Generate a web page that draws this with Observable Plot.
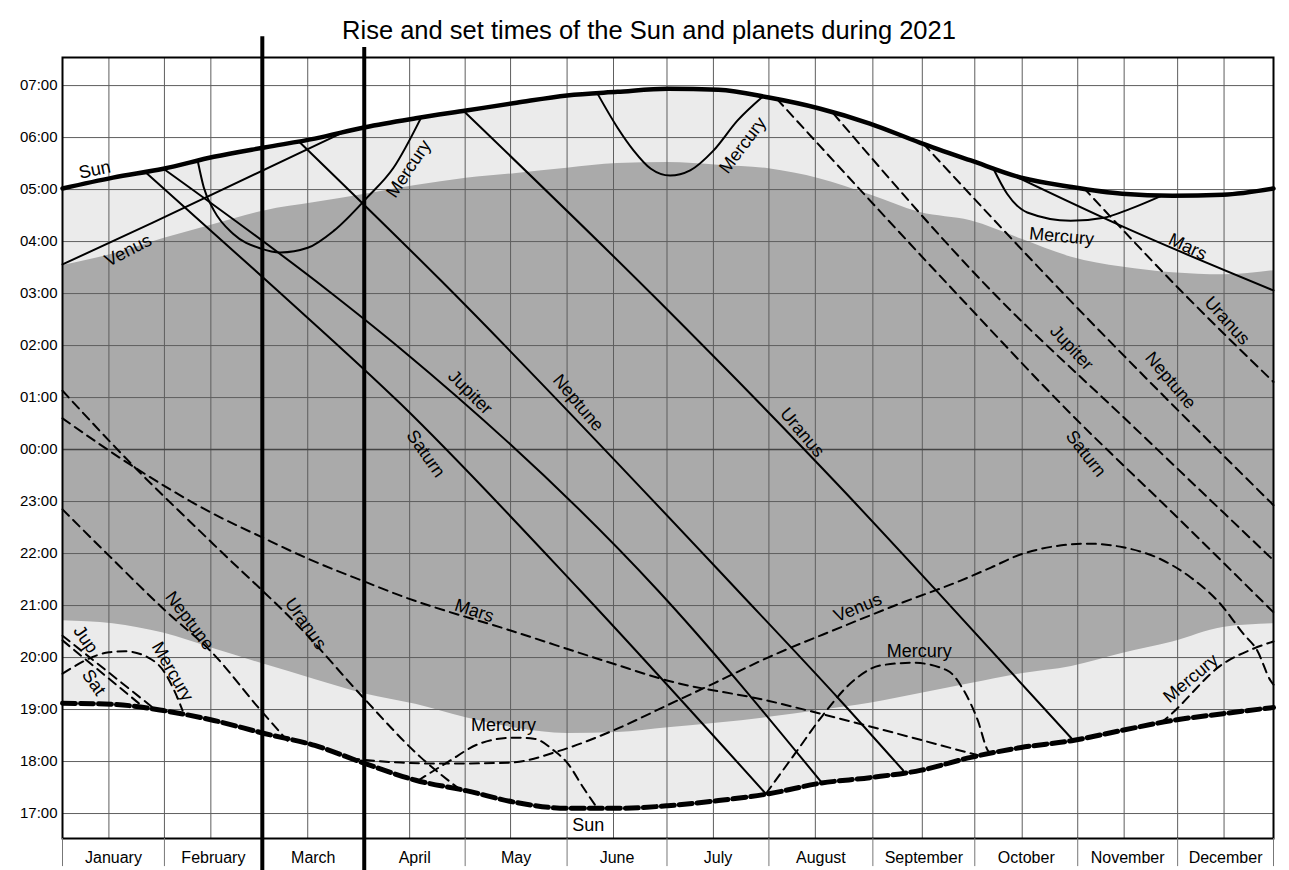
<!DOCTYPE html>
<html><head><meta charset="utf-8">
<script src="https://cdn.jsdelivr.net/npm/d3@7"></script>
<script src="https://cdn.jsdelivr.net/npm/@observablehq/plot@0.6"></script>
<style>body{margin:0;background:#fff}</style>
</head><body><div id="chart"></div>
<script>
// x = month position (0 = 1 Jan, 12 = 31 Dec), y = clock hour continuing past midnight (24 = 00:00, 31 = 07:00)
const title = "Rise and set times of the Sun and planets during 2021";
const months = ["January","February","March","April","May","June","July","August","September","October","November","December"];
const monthEdges = [0, 1.01, 1.98, 2.99, 3.99, 5.0, 5.99, 7.0, 8.03, 9.04, 10.06, 11.05, 12];
const midMonthLines = [0.46, 1.47, 2.43, 3.44, 4.44, 5.46, 6.45, 7.46, 8.52, 9.51, 10.52, 11.51];
const hourTicks = [17,18,19,20,21,22,23,24,25,26,27,28,29,30,31];
const boldMonthEdges = [1.98, 2.99];

const sampleMonths = [0,0.5,1,1.5,2,2.5,3,3.5,4,4.5,5,5.5,6,6.5,7,7.5,8,8.5,9,9.5,10,10.5,11,11.5,12];
const sunrise = [29.02,29.23,29.40,29.63,29.81,29.98,30.20,30.37,30.52,30.67,30.81,30.88,30.94,30.92,30.77,30.56,30.27,29.90,29.56,29.23,29.05,28.92,28.88,28.90,29.02];
const sunset  = [19.12,19.10,18.98,18.79,18.54,18.31,17.96,17.64,17.44,17.21,17.10,17.10,17.15,17.25,17.38,17.58,17.69,17.83,18.08,18.27,18.40,18.60,18.79,18.92,19.04];
const darkEnd   = [27.54,27.76,28.06,28.33,28.59,28.75,28.91,29.08,29.22,29.31,29.41,29.50,29.52,29.47,29.40,29.21,28.90,28.56,28.40,28.05,27.70,27.51,27.40,27.36,27.44];
const darkStart = [20.71,20.65,20.47,20.17,19.87,19.58,19.30,19.10,18.84,18.64,18.54,18.56,18.65,18.74,18.85,18.98,19.12,19.31,19.50,19.69,19.83,20.08,20.30,20.58,20.65];

// rise times (solid)
const venusRise    = [[0,27.56],[0.90,28.37],[2.78,30.10]];
const mercuryRise1 = [[1.34,29.55],[1.40,29.04],[1.50,28.60],[1.69,28.15],[1.96,27.87],[2.16,27.79],[2.43,27.88],[2.69,28.21],[3.02,28.85],[3.28,29.42],[3.55,30.37]];
const mercuryRise2 = [[5.30,30.85],[5.50,30.19],[5.66,29.75],[5.83,29.40],[6.02,29.27],[6.22,29.37],[6.45,29.75],[6.69,30.33],[6.94,30.79]];
const mercuryRise3 = [[9.22,29.42],[9.36,28.92],[9.56,28.56],[9.99,28.40],[10.32,28.46],[10.58,28.63],[10.90,28.89]];
const saturnRise   = [[0.82,29.34],[2.13,27.06],[3.35,24.88],[5.13,21.29],[6.97,17.38]];
const jupiterRise  = [[1.00,29.40],[2.63,27.06],[3.35,25.94],[5.90,21.29],[7.53,17.58]];
const neptuneRise  = [[2.34,29.93],[3.75,27.25],[6.69,21.29],[7.71,19.17],[8.33,17.83]];
const uranusRise   = [[3.97,30.52],[5.90,26.87],[7.71,23.27],[8.63,21.35],[10.02,18.40]];
const marsRise     = [[9.37,29.32],[10.48,28.31],[12,27.06]];

// set times (dashed)
const uranusSet1  = [[0,25.13],[0.72,23.65],[1.49,22.19],[2.41,20.46],[2.98,19.23],[3.55,18.08],[3.94,17.46]];
const marsSet     = [[0,24.60],[0.72,23.65],[1.49,22.77],[1.98,22.31],[2.41,21.92],[3.02,21.44],[3.35,21.19],[4.44,20.52],[5.46,19.88],[5.99,19.56],[6.99,19.17],[7.51,18.92],[9.07,18.12]];
const neptuneSet1 = [[0,22.85],[0.46,21.96],[1.02,20.90],[1.49,20.08],[1.94,19.04],[2.23,18.40]];
const jupiterSet1 = [[0,20.42],[0.90,19.03]];
const saturnSet1  = [[0,20.33],[0.80,19.05]];
const mercurySet1 = [[0,19.69],[0.46,20.10],[0.62,20.12],[0.85,20.00],[1.02,19.69],[1.12,19.31],[1.19,18.98]];
const venusSet    = [[2.85,18.06],[3.35,17.98],[3.81,17.96],[4.44,17.98],[4.93,18.21],[5.46,18.60],[5.99,19.08],[6.45,19.50],[6.99,20.00],[7.71,20.58],[8.30,21.04],[8.90,21.48],[9.20,21.73],[9.52,22.00],[10.16,22.19],[10.51,22.12],[10.85,21.92],[11.18,21.54],[11.47,21.04],[11.70,20.46],[11.84,20.13],[11.97,19.56],[12,19.48]];
const mercurySet2 = [[3.52,17.63],[3.81,17.98],[4.14,18.35],[4.47,18.46],[4.67,18.44],[4.87,18.21],[5.00,17.98],[5.16,17.50],[5.30,17.10]];
const mercurySet3 = [[6.97,17.38],[7.28,18.21],[7.53,18.88],[7.84,19.56],[8.11,19.85],[8.43,19.90],[8.77,19.75],[8.93,19.37],[9.07,18.79],[9.17,18.21],[9.21,18.14]];
const mercurySet4 = [[10.88,18.74],[10.95,18.85],[11.50,19.88],[11.80,20.17],[12,20.31]];
const saturnSet2  = [[7.08,30.74],[8.83,27.06],[9.99,24.69],[11.05,22.69],[12,20.87]];
const jupiterSet2 = [[7.64,30.46],[9.20,27.06],[10.58,24.50],[12,21.87]];
const neptuneSet2 = [[8.53,29.88],[9.89,27.06],[12,22.93]];
const uranusSet2  = [[10.12,29.03],[11.08,27.06],[12,25.30]];

const labels = [
  ["Sun", 0.32, 29.38, -12], ["Venus", 0.65, 27.83, -27], ["Mercury", 3.43, 29.40, -56],
  ["Mercury", 6.74, 29.85, -53], ["Mercury", 9.90, 28.10, 5], ["Mars", 11.15, 27.90, 25],
  ["Saturn", 3.60, 23.92, 55], ["Jupiter", 4.04, 25.10, 45], ["Neptune", 5.11, 24.90, 50],
  ["Uranus", 7.33, 24.33, 50], ["Jupiter", 10.00, 25.96, 47], ["Neptune", 10.98, 25.33, 50],
  ["Saturn", 10.14, 23.92, 52], ["Uranus", 11.54, 26.48, 48], ["Mars", 4.08, 20.90, 18],
  ["Neptune", 1.26, 20.71, 53], ["Uranus", 2.41, 20.65, 55], ["Jup", 0.23, 20.35, 55],
  ["Sat", 0.31, 19.52, 55], ["Mercury", 1.09, 19.73, 60], ["Mercury", 4.37, 18.69, 0],
  ["Mercury", 8.49, 20.12, 0], ["Mercury", 11.18, 19.60, -40], ["Venus", 7.88, 20.96, -22],
  ["Sun", 5.21, 16.77, 0]
];

const flatten = (list) => list.flatMap(([key, pts]) => pts.map(([m, t]) => ({key, m, t})));
const riseTable = flatten([["venus", venusRise], ["merc1", mercuryRise1], ["merc2", mercuryRise2], ["merc3", mercuryRise3],
  ["saturn", saturnRise], ["jupiter", jupiterRise], ["neptune", neptuneRise], ["uranus", uranusRise], ["mars", marsRise]]);
const setTable = flatten([["uranus1", uranusSet1], ["mars", marsSet], ["neptune1", neptuneSet1], ["jupiter1", jupiterSet1],
  ["saturn1", saturnSet1], ["merc1", mercurySet1], ["venus", venusSet], ["merc2", mercurySet2], ["merc3", mercurySet3],
  ["merc4", mercurySet4], ["saturn2", saturnSet2], ["jupiter2", jupiterSet2], ["neptune2", neptuneSet2], ["uranus2", uranusSet2]]);
const sunTable = sampleMonths.map((m, i) => ({m, rise: sunrise[i], set: sunset[i], dStart: darkStart[i], dEnd: darkEnd[i]}));

const Y0 = 16.52, Y1 = 31.54;
const fmt = h => String(h % 24).padStart(2, "0") + ":00";

const chart = Plot.plot({
  width: 1289, height: 870,
  marginTop: 57, marginBottom: 32, marginLeft: 62, marginRight: 16,
  x: {domain: [0, 12], axis: null},
  y: {domain: [Y0, Y1], axis: null},
  style: {fontFamily: "'Liberation Sans', Arial, sans-serif", background: "white", color: "black"},
  marks: [
    Plot.areaY(sunTable, {x: "m", y1: "set", y2: "rise", fill: "#ebebeb", curve: "monotone-x"}),
    Plot.areaY(sunTable, {x: "m", y1: "dStart", y2: "dEnd", fill: "#aaaaaa", curve: "monotone-x"}),
    Plot.ruleX(monthEdges.concat(midMonthLines), {x: d => d, y1: () => Y0, y2: () => Y1, stroke: "#5e5e5e", strokeWidth: 1}),
    Plot.ruleY(hourTicks, {y: d => d, x1: () => 0, x2: () => 12, stroke: "#5e5e5e", strokeWidth: 1}),
    Plot.ruleY([24], {y: d => d, x1: () => 0, x2: () => 12, stroke: "#444", strokeWidth: 1.6}),
    Plot.line(riseTable, {x: "m", y: "t", z: "key", stroke: "black", strokeWidth: 2, curve: "monotone-x"}),
    Plot.line(setTable, {x: "m", y: "t", z: "key", stroke: "black", strokeWidth: 2, strokeDasharray: "9,6", curve: "monotone-x"}),
    Plot.line(sunTable, {x: "m", y: "rise", stroke: "black", strokeWidth: 4.5, curve: "monotone-x"}),
    Plot.line(sunTable, {x: "m", y: "set", stroke: "black", strokeWidth: 5, strokeDasharray: "13,5", curve: "monotone-x"}),
    Plot.text(labels, {x: d => d[1], y: d => d[2], text: d => d[0], rotate: d => d[3], fontSize: 18, fill: "black"}),
    Plot.frame({stroke: "black", strokeWidth: 2}),
    Plot.ruleX(monthEdges, {x: d => d, y1: () => Y0, y2: () => 15.98, stroke: "#777", strokeWidth: 1}),
    Plot.ruleX(boldMonthEdges, {x: d => d, y1: () => 15.9, y2: (d, i) => i === 0 ? 31.94 : 31.73, stroke: "black", strokeWidth: 4}),
    Plot.text(months, {x: (d, i) => (monthEdges[i] + monthEdges[i + 1]) / 2, y: () => 16.15, text: d => d, fontSize: 16, fill: "black"}),
    Plot.text(hourTicks, {x: () => 0, y: d => d, text: fmt, textAnchor: "end", dx: -5, fontSize: 15, fill: "black"}),
    Plot.text([title], {frameAnchor: "top", lineAnchor: "middle", dx: -19, dy: -27, text: d => d, fontSize: 25.5, fill: "black"})
  ]
});
document.getElementById("chart").append(chart);
</script></body></html>
